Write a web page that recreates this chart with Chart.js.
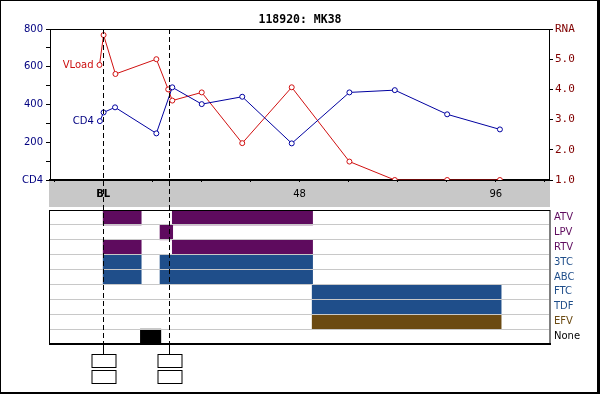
<!DOCTYPE html>
<html><head><meta charset="utf-8">
<script src="https://cdn.jsdelivr.net/npm/chart.js@4/dist/chart.umd.min.js"></script>
<style>
html,body{margin:0;padding:0;background:#fff;}
#wrap{position:relative;width:600px;height:394px;overflow:hidden;background:#fff;}
#frame{position:absolute;left:0;top:0;width:600px;height:394px;box-sizing:border-box;border-style:solid;border-color:#000;border-width:1px 3px 2px 1px;pointer-events:none;}
#c1{position:absolute;left:0;top:0;}
#c2{position:absolute;left:0;top:195px;}
</style></head><body>
<div id="wrap">
<canvas id="c1" width="600" height="210"></canvas>
<canvas id="c2" width="600" height="199"></canvas>
<div id="frame"></div>
</div>
<script>
// ---- data ----
const chartTitle = '118920: MK38';
const xMin = -13, xMax = 109;
const xTickWeeks = [-12, 0, 12, 24, 36, 48, 60, 72, 84, 96, 108];
const xTickLabels = {0: 'BL', 48: '48', 96: '96'};
const cd4Weeks  = [-0.8, 0.1, 2.9, 13.0, 16.9, 24.1, 34.0, 46.1, 60.2, 71.3, 84.1, 97.0];
const cd4Values = [312, 358, 385, 247, 491, 402, 441, 194, 464, 476, 348, 268];
const vlWeeks   = [-0.9, 0.1, 3.0, 13.0, 15.9, 16.9, 24.1, 34.0, 46.1, 60.2, 71.3, 84.1, 97.0];
const vlValues  = [4.81, 5.80, 4.51, 5.00, 4.00, 3.63, 3.90, 2.22, 4.07, 1.61, 1.00, 1.00, 1.00];
const markerWeeks = [0, 16];
const drugs = ['ATV', 'LPV', 'RTV', '3TC', 'ABC', 'FTC', 'TDF', 'EFV', 'None'];
const drugColors = ['#5E0B5E', '#5E0B5E', '#5E0B5E', '#1F4E8A', '#1F4E8A', '#1F4E8A', '#1F4E8A', '#6B4A12', '#000000'];
const firstPeriod  = [[0, 9.3], [13.9, 17.0], [0, 9.3], [0, 9.3], [0, 9.3], [51.1, 97.3], [51.1, 97.3], [51.1, 97.3], [9.1, 14.1]];
const secondPeriod = [[16.9, 51.2], null, [16.9, 51.2], [13.9, 51.2], [13.9, 51.2], null, null, null, null];

const SANS = 'DejaVu Sans';
const MONO = 'DejaVu Sans Mono';

// ---- top chart ----
const topPlugin = {
  id: 'topDeco',
  beforeDraw(chart) {
    const ctx = chart.ctx, a = chart.chartArea;
    ctx.save();
    ctx.fillStyle = '#C8C8C8';
    ctx.fillRect(49, a.bottom, 501, 27);
    ctx.restore();
  },
  afterDatasetsDraw(chart) {
    const ctx = chart.ctx, a = chart.chartArea;
    ctx.save();
    ctx.strokeStyle = '#000'; ctx.lineWidth = 1;
    ctx.beginPath(); ctx.moveTo(a.left, a.top + 0.5); ctx.lineTo(a.right + 1, a.top + 0.5); ctx.stroke();
    ctx.font = '10px "' + SANS + '"';
    ctx.textAlign = 'right'; ctx.textBaseline = 'middle';
    const m0 = chart.getDatasetMeta(0).data[0];
    const m1 = chart.getDatasetMeta(1).data[0];
    ctx.fillStyle = '#000080'; ctx.fillText('CD4', m0.x - 6, m0.y);
    ctx.fillStyle = '#CC1010'; ctx.fillText('VLoad', m1.x - 6, m1.y);
    ctx.setLineDash([5, 3]);
    markerWeeks.forEach(w => {
      const x = Math.round(chart.scales.x.getPixelForValue(w)) + 0.5;
      ctx.beginPath(); ctx.moveTo(x, a.top); ctx.lineTo(x, chart.height); ctx.stroke();
    });
    ctx.restore();
  }
};

new Chart(document.getElementById('c1'), {
  type: 'line',
  data: {
    datasets: [
      {label: 'CD4', data: cd4Weeks.map((w, i) => ({x: w, y: cd4Values[i]})), yAxisID: 'y',
       borderColor: '#0000A0', borderWidth: 1, pointRadius: 2.5, pointBorderWidth: 1,
       pointBackgroundColor: '#fff', pointBorderColor: '#0000A0', tension: 0, clip: 0},
      {label: 'VLoad', data: vlWeeks.map((w, i) => ({x: w, y: vlValues[i]})), yAxisID: 'y1',
       borderColor: '#D01010', borderWidth: 1, pointRadius: 2.5, pointBorderWidth: 1,
       pointBackgroundColor: '#fff', pointBorderColor: '#D01010', tension: 0, clip: 0}
    ]
  },
  options: {
    responsive: false, animation: false, events: [],
    layout: {padding: {left: 0, right: 0, top: 0, bottom: 0}},
    plugins: {
      legend: {display: false}, tooltip: {enabled: false},
      title: {display: true, text: chartTitle, color: '#000',
              font: {family: MONO, weight: 'bold', size: 11.5}, padding: {top: 13, bottom: 2.2}}
    },
    scales: {
      x: {
        type: 'linear', min: xMin, max: xMax, position: 'bottom',
        afterBuildTicks: s => { s.ticks = xTickWeeks.map(v => ({value: v})); },
        afterFit: s => { s.height = 30; },
        ticks: {autoSkip: false, maxRotation: 0, padding: 6, color: '#000',
                callback: v => xTickLabels[v] || '',
                font: c => ({family: SANS, size: 10, weight: (c.tick && c.tick.value === 0) ? 'bold' : 'normal'})},
        grid: {drawOnChartArea: false, drawTicks: true, tickLength: 2, color: '#000'},
        border: {color: '#000', width: 2}
      },
      y: {
        position: 'left', min: 0, max: 800,
        afterFit: s => { s.width = 50; },
        ticks: {stepSize: 100, padding: 3, color: '#000080', font: {family: SANS, size: 10},
                callback: v => v === 0 ? 'CD4' : (v % 200 === 0 ? String(v) : '')},
        grid: {drawOnChartArea: false, tickLength: 4, color: '#000'},
        border: {color: '#000', width: 1}
      },
      y1: {
        position: 'right', min: 1, max: 6,
        afterFit: s => { s.width = 51; },
        ticks: {stepSize: 0.5, padding: 2, crossAlign: 'near', color: '#800000', font: {family: MONO, size: 11},
                callback: v => Number.isInteger(v) ? (v === 6 ? 'RNA' : v.toFixed(1)) : ''},
        grid: {drawOnChartArea: false, tickLength: 4, color: '#000'},
        border: {color: '#000', width: 1}
      }
    }
  },
  plugins: [topPlugin]
});

// ---- bottom chart ----
const C2_TOP = 195;
const botPlugin = {
  id: 'botDeco',
  afterDraw(chart) {
    const ctx = chart.ctx, a = chart.chartArea;
    ctx.save();
    ctx.strokeStyle = '#000'; ctx.lineWidth = 1;
    ctx.strokeRect(49.5, a.top + 0.5, 500.5, a.bottom - a.top);
    ctx.lineWidth = 2;
    ctx.beginPath(); ctx.moveTo(49, a.bottom); ctx.lineTo(551, a.bottom); ctx.stroke();
    ctx.lineWidth = 1;
    markerWeeks.forEach(w => {
      const x = Math.round(chart.scales.x.getPixelForValue(w)) + 0.5;
      ctx.setLineDash([5, 3]);
      ctx.lineDashOffset = (210 - 29) % 8;
      ctx.beginPath(); ctx.moveTo(x, a.top); ctx.lineTo(x, a.bottom); ctx.stroke();
      ctx.setLineDash([]);
      ctx.beginPath(); ctx.moveTo(x, a.bottom); ctx.lineTo(x, 354 - C2_TOP); ctx.stroke();
      ctx.strokeRect(Math.round(x - 12), 354 - C2_TOP + 0.5, 24, 13);
      ctx.strokeRect(Math.round(x - 12), 370 - C2_TOP + 0.5, 24, 13);
    });
    ctx.restore();
  }
};

new Chart(document.getElementById('c2'), {
  type: 'bar',
  data: {
    labels: drugs,
    datasets: [
      {data: firstPeriod, backgroundColor: drugColors, borderWidth: 0, barPercentage: 1, categoryPercentage: 1},
      {data: secondPeriod, backgroundColor: drugColors, borderWidth: 0, barPercentage: 1, categoryPercentage: 1}
    ]
  },
  options: {
    indexAxis: 'y', responsive: false, animation: false, events: [],
    layout: {padding: {left: 50, right: 0, top: 15, bottom: 50}},
    plugins: {legend: {display: false}, tooltip: {enabled: false}},
    datasets: {bar: {grouped: false}},
    scales: {
      x: {type: 'linear', min: xMin, max: xMax, display: false},
      y: {
        type: 'category', position: 'right', offset: true,
        afterFit: s => { s.width = 51; },
        ticks: {autoSkip: false, padding: 5, crossAlign: 'near', font: {family: SANS, size: 10},
                color: c => drugColors[c.index]},
        grid: {offset: true, drawTicks: false, drawOnChartArea: true, color: '#C8C8C8', z: 1},
        border: {display: false}
      }
    }
  },
  plugins: [botPlugin]
});
</script>
</body></html>
